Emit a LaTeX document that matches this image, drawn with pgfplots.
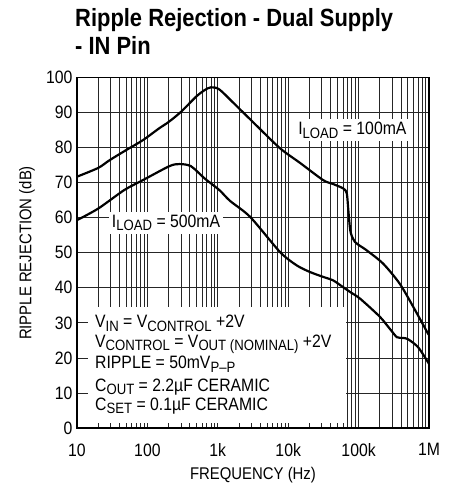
\documentclass[border=0pt]{standalone}
\usepackage{fontspec}
\setmainfont{Liberation Sans}[FakeStretch=0.88]
\usepackage{pgfplots}
\pgfplotsset{compat=1.18}

\newcommand\sub[1]{\raisebox{-0.35ex}{\fontsize{15}{15}\selectfont #1}}
\newcommand\lbl{\fontsize{18}{18}\selectfont}

\begin{document}
\begin{tikzpicture}
\begin{axis}[
    at={(0,0)}, anchor=south west,
    scale only axis,
    width=352bp, height=350.5bp,
    xmode=log,
    xmin=10, xmax=1e6,
    ymin=0, ymax=100,
    xtick={10,100,1000,10000,100000,1000000},
    xticklabels={10,100,1k,10k,100k,1M},
    ytick={0,10,20,30,40,50,60,70,80,90,100},
    yticklabels={0,10,20,30,40,50,60,70,80,90,100},
    minor ytick={},
    grid=both,
    major grid style={black!85, line width=0.8pt},
    minor grid style={black!85, line width=0.8pt},
    major tick length=0pt, minor tick length=0pt,
    axis line style={black, line width=1.2pt},
    tick label style={font=\fontsize{18}{18}\selectfont},
    xticklabel style={yshift=-12bp},
    yticklabel style={xshift=-1bp},
    clip=true,
    ]

    % notes box over the grid
    \fill[white] (axis cs:14.4,1.3) rectangle (axis cs:65700,34.5);
    \node[anchor=base west, inner sep=0pt, font=\lbl] at (axis cs:18,28.6)
        {V\sub{IN} = V\sub{CONTROL} +2V};
    \node[anchor=base west, inner sep=0pt, font=\lbl] at (axis cs:18,23.0)
        {V\sub{CONTROL} = V\sub{OUT (NOMINAL)} +2V};
    \node[anchor=base west, inner sep=0pt, font=\lbl] at (axis cs:18,16.9)
        {RIPPLE = 50mV\sub{P--P}};
    \node[anchor=base west, inner sep=0pt, font=\lbl] at (axis cs:18,10.5)
        {C\sub{OUT} = 2.2µF CERAMIC};
    \node[anchor=base west, inner sep=0pt, font=\lbl] at (axis cs:18,5.0)
        {C\sub{SET} = 0.1µF CERAMIC};

    % curve labels
    \node[fill=white, inner sep=3bp, font=\lbl] at (axis cs:184,58.6)
        {I\sub{LOAD} = 500mA};
    \node[fill=white, inner sep=3bp, font=\lbl] at (axis cs:81600,84.9)
        {I\sub{LOAD} = 100mA};

    % I_LOAD = 100mA
    \addplot[black, line width=2.2pt, smooth, tension=0.45] coordinates {
        (10,71.7) (20,74.2) (29,76.4) (50,79.3) (86,82.1) (147,85.5)
        (200,87.3) (300,90.2) (490,94.5) (650,96.4) (800,97.2) (1050,96.6)
        (1800,92.1) (3500,86.4) (7660,79.8) (14800,75.6) (31500,70.7)
        (43600,69.6) (61000,68.3) (68000,66.9) (71500,62.1) (75800,56.6)
        (80000,54.8) (88600,53.1) (104000,52.0) (130000,50.7) (223000,46.9)
        (383000,41.2) (600000,34.5) (946000,27.3) (1000000,26.6)
    };

    % I_LOAD = 500mA
    \addplot[black, line width=2.2pt, smooth, tension=0.45] coordinates {
        (10,59.3) (20,62.6) (47,67.9) (86,70.7) (205,74.7) (284,75.3)
        (415,74.7) (650,71.2) (1050,67.9) (1490,64.8) (2890,60.2)
        (7660,50.2) (13200,46.4) (20400,44.5) (31500,43.1) (43600,42.1)
        (61000,40.1) (75800,38.8) (105000,36.9) (199000,31.8) (280000,28.2)
        (351000,25.9) (430000,25.7) (506000,25.3) (704000,23.0) (1000000,18.3)
    };
\end{axis}

\node[anchor=base west, font=\fontsize{25}{25}\selectfont\bfseries, inner sep=0pt]
    at (-2bp,401bp) {Ripple Rejection - Dual Supply};
\node[anchor=base west, font=\fontsize{25}{25}\selectfont\bfseries, inner sep=0pt]
    at (-2bp,373bp) {- IN Pin};
\node[rotate=90, anchor=center, font=\fontsize{17}{17}\selectfont]
    at (-50bp,175bp) {RIPPLE REJECTION (dB)};
\node[anchor=base, font=\fontsize{17}{17}\selectfont, inner sep=0pt]
    at (176bp,-51bp) {FREQUENCY (Hz)};

\pgfresetboundingbox
\useasboundingbox (-77bp,-57bp) rectangle (373bp,428bp);
\end{tikzpicture}
\end{document}
